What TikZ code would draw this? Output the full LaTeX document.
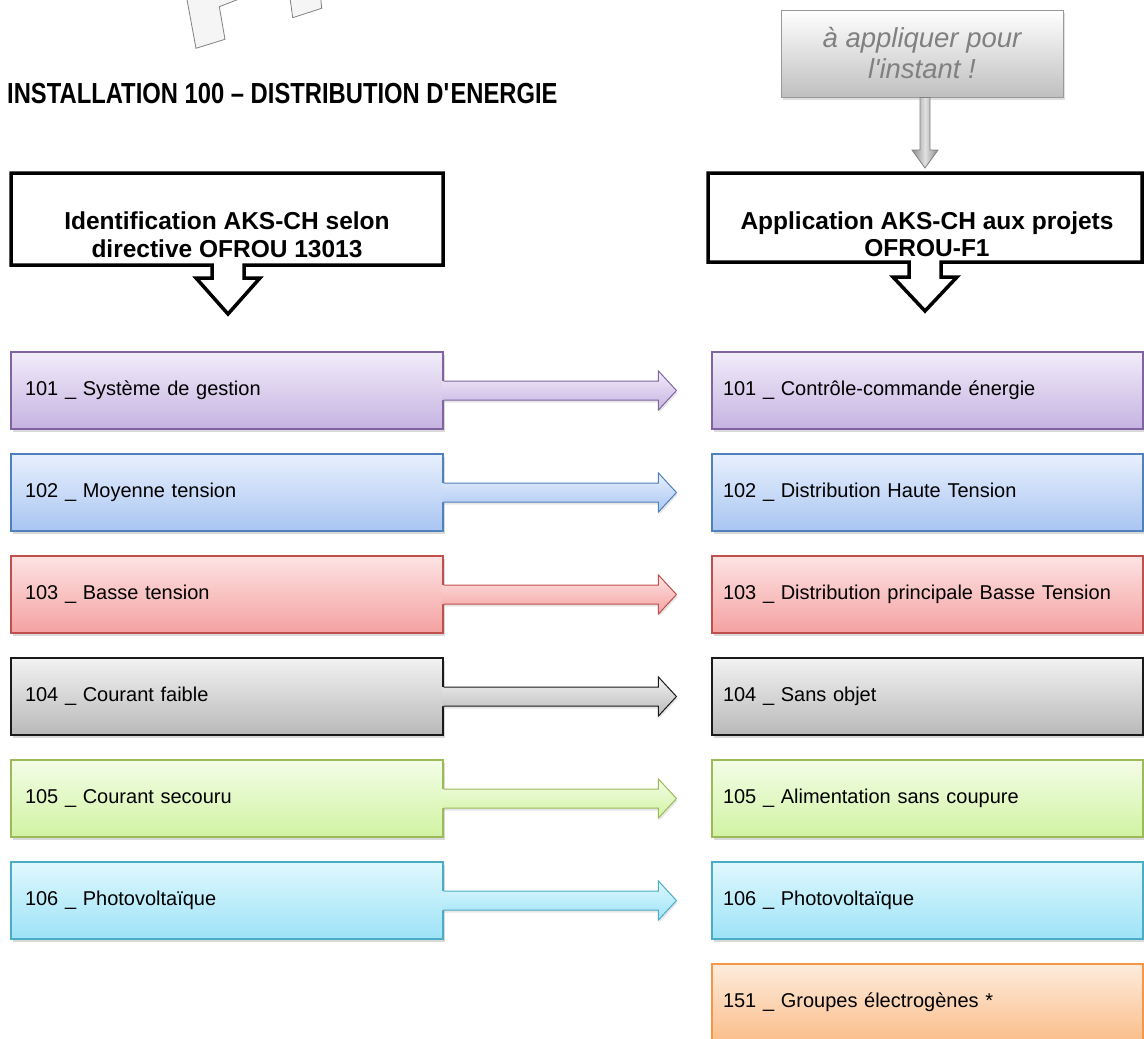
\documentclass[tikz,border=0pt]{standalone}
\usepackage{fontspec}
\setmainfont{Liberation Sans}
\newfontfamily\titlefont[FakeStretch=0.82]{Liberation Sans}
\usetikzlibrary{shadows,calc}

\definecolor{c1t}{HTML}{F1ECF9}\definecolor{c1b}{HTML}{C6B3E2}\definecolor{c1d}{HTML}{8064A2}
\definecolor{c2t}{HTML}{E8F0FD}\definecolor{c2b}{HTML}{A9C5F2}\definecolor{c2d}{HTML}{4F81BD}
\definecolor{c3t}{HTML}{FDE3E3}\definecolor{c3b}{HTML}{F5A1A1}\definecolor{c3d}{HTML}{C0504D}
\definecolor{c4t}{HTML}{F2F2F2}\definecolor{c4b}{HTML}{B9B9B9}\definecolor{c4d}{HTML}{1A1A1A}
\definecolor{c5t}{HTML}{F3FDE6}\definecolor{c5b}{HTML}{D1F3A3}\definecolor{c5d}{HTML}{9BBB59}
\definecolor{c6t}{HTML}{E0F8FE}\definecolor{c6b}{HTML}{9DE3F7}\definecolor{c6d}{HTML}{4BACC6}
\definecolor{c7t}{HTML}{FDECDD}\definecolor{c7b}{HTML}{FBBE8B}\definecolor{c7d}{HTML}{F79646}

\tikzset{
  lbox/.style={rectangle, line width=1.1pt, minimum height=77pt, text width=404pt,
    inner xsep=14pt, inner ysep=0pt, align=left, font=\fontsize{20}{24}\selectfont,
    drop shadow={shadow xshift=1.5pt, shadow yshift=-3pt, opacity=0.3}},
  rbox/.style={lbox, text width=409pt, inner xsep=11pt},
  s1/.style={draw=c1d, top color=c1t, bottom color=c1b},
  s2/.style={draw=c2d, top color=c2t, bottom color=c2b},
  s3/.style={draw=c3d, top color=c3t, bottom color=c3b},
  s4/.style={draw=c4d, top color=c4t, bottom color=c4b},
  s5/.style={draw=c5d, top color=c5t, bottom color=c5b},
  s6/.style={draw=c6d, top color=c6t, bottom color=c6b},
  s7/.style={draw=c7d, top color=c7t, bottom color=c7b},
  callout/.style={draw=black, fill=white, line width=3.5pt, line join=miter},
  headtxt/.style={align=center, font=\bfseries\fontsize{24.5}{27.5}\selectfont, inner sep=0pt},
}

\newcommand\bkarrow[3]{%
  \shade[top color=#3t, bottom color=#3b, drop shadow={shadow xshift=1pt, shadow yshift=-2.5pt, opacity=0.2}]
    ([xshift=-1.5pt,yshift=9.5pt]#1.east) -- ([xshift=-53pt,yshift=9.5pt]#2.west)
    -- ([xshift=-53pt,yshift=19.5pt]#2.west) -- ([xshift=-35pt]#2.west)
    -- ([xshift=-53pt,yshift=-19.5pt]#2.west) -- ([xshift=-53pt,yshift=-9.5pt]#2.west)
    -- ([xshift=-1.5pt,yshift=-9.5pt]#1.east) -- cycle;
  \draw[#3d, line width=1pt, line join=miter]
    ([yshift=9.5pt]#1.east) -- ([xshift=-53pt,yshift=9.5pt]#2.west)
    -- ([xshift=-53pt,yshift=19.5pt]#2.west) -- ([xshift=-35pt]#2.west)
    -- ([xshift=-53pt,yshift=-19.5pt]#2.west) -- ([xshift=-53pt,yshift=-9.5pt]#2.west)
    -- ([yshift=-9.5pt]#1.east);
}

\begin{document}
\begin{tikzpicture}[x=1pt, y=-1pt]
\useasboundingbox (0,0) rectangle (1144,1039);
\clip (0,0) rectangle (1144,1039);

% watermark fragments
\filldraw[fill=black!4, draw=black!50, line width=0.8pt]
  (186.7,-2) -- (196,48.3) -- (225,39.3) -- (219.3,6.7) -- (241.7,-2);
\filldraw[fill=black!4, draw=black!50, line width=0.8pt]
  (290,-2) -- (292.7,17.7) -- (321.7,8.3) -- (320.7,-2);

% title
\node[anchor=west, inner sep=0pt, font=\titlefont\bfseries\fontsize{29}{33}\selectfont] (title) at (7,94)
  {INSTALLATION 100 – DISTRIBUTION D\textquotesingle ENERGIE};

% note box
\node[rectangle, minimum width=282pt, minimum height=87pt, inner sep=0pt, draw=black!40, line width=1pt,
  top color=white, bottom color=black!25, align=center, text=black!50,
  font=\itshape\fontsize{27.5}{31}\selectfont,
  drop shadow={shadow xshift=1.5pt, shadow yshift=-2.5pt, opacity=0.25}] (note) at (922,53.5)
  {à appliquer pour\\l\textquotesingle instant !};
\coordinate (rtop) at (925,173);
\shade[left color=black!45, right color=black!45, middle color=black!12, draw=black!50, line width=0.8pt]
  ($(note.south -| rtop)+(-5,0)$) -- (920,150) -- (912,150) -- ($(rtop)+(0,-5)$) -- (938,150) -- (930,150)
  -- ($(note.south -| rtop)+(5,0)$) -- cycle;

% callouts
\draw[callout] (11,173) -- (443,173) -- (443,265) -- (244,265) -- (244,278) -- (260,278)
  -- (228,314) -- (196,278) -- (212,278) -- (212,265) -- (11,265) -- cycle;
\node[headtxt] (hl) at (227,235) {Identification AKS-CH selon\\directive OFROU 13013};

\draw[callout] (708,173) -- (1142,173) -- (1142,262) -- (941,262) -- (941,277) -- (957,277)
  -- (925,311) -- (893,277) -- (909,277) -- (909,262) -- (708,262) -- cycle;
\node[headtxt] (hr) at (927,234) {Application AKS-CH aux projets\\OFROU-F1};

% left column
\node[lbox, s1] (l1) at (227,390.5) {101 \_ Système de gestion};
\node[lbox, s2] (l2) at (227,492.5) {102 \_ Moyenne tension};
\node[lbox, s3] (l3) at (227,594.5) {103 \_ Basse tension};
\node[lbox, s4] (l4) at (227,696.5) {104 \_ Courant faible};
\node[lbox, s5] (l5) at (227,798.5) {105 \_ Courant secouru};
\node[lbox, s6] (l6) at (227,900.5) {106 \_ Photovoltaïque};

% right column
\node[rbox, s1] (r1) at (927.5,390.5) {101 \_ Contrôle-commande énergie};
\node[rbox, s2] (r2) at (927.5,492.5) {102 \_ Distribution Haute Tension};
\node[rbox, s3] (r3) at (927.5,594.5) {103 \_ Distribution principale Basse Tension};
\node[rbox, s4] (r4) at (927.5,696.5) {104 \_ Sans objet};
\node[rbox, s5] (r5) at (927.5,798.5) {105 \_ Alimentation sans coupure};
\node[rbox, s6] (r6) at (927.5,900.5) {106 \_ Photovoltaïque};
\node[rbox, s7] (r7) at (927.5,1002.5) {151 \_ Groupes électrogènes *};

% block arrows
\bkarrow{l1}{r1}{c1}
\bkarrow{l2}{r2}{c2}
\bkarrow{l3}{r3}{c3}
\bkarrow{l4}{r4}{c4}
\bkarrow{l5}{r5}{c5}
\bkarrow{l6}{r6}{c6}
\end{tikzpicture}
\end{document}
